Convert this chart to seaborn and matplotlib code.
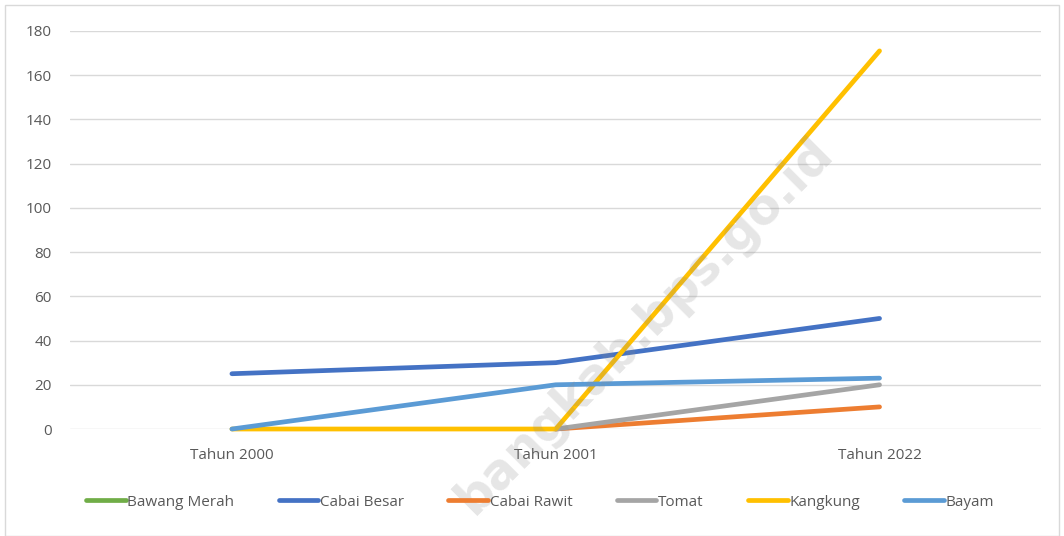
import numpy as np
import pandas as pd
import seaborn as sns
import matplotlib.pyplot as plt
from matplotlib.lines import Line2D
from matplotlib.patches import Rectangle

years = ['Tahun 2000', 'Tahun 2001', 'Tahun 2022']
series = ['Bawang Merah', 'Cabai Besar', 'Cabai Rawit', 'Tomat', 'Kangkung', 'Bayam']
bawang_merah = [np.nan, np.nan, np.nan]
cabai_besar = [25, 30, 50]
cabai_rawit = [np.nan, 0, 10]
tomat = [np.nan, 0, 20]
kangkung = [0, 0, 171]
bayam = [0, 20, 23]
colors = ['#70AD47', '#4472C4', '#ED7D31', '#A5A5A5', '#FFC000', '#5B9BD5']

values = [bawang_merah, cabai_besar, cabai_rawit, tomat, kangkung, bayam]
df = pd.DataFrame({
    'tahun': years * len(series),
    'jenis': [s for s in series for _ in years],
    'nilai': [v for vals in values for v in vals],
})
palette = dict(zip(series, colors))

sns.set_style('white')
plt.rcParams['font.family'] = ['Open Sans', 'DejaVu Sans']

fig = plt.figure(figsize=(10.64, 5.36), dpi=100)
ax = fig.add_axes([0.0658, 0.1996, 0.913, 0.7426])

sns.lineplot(data=df.dropna(), x='tahun', y='nilai', hue='jenis', hue_order=series,
             palette=palette, linewidth=3.4, legend=False, sort=False, ax=ax)
for line in ax.lines:
    line.set_clip_on(False)
    line.set_solid_capstyle('round')

ax.set_xlim(-0.5, 2.5)
ax.set_ylim(0, 180)
ax.set_yticks(range(0, 181, 20))
ax.grid(axis='y', color='#d9d9d9', linewidth=1)
ax.set_axisbelow(True)
for s in ax.spines.values():
    s.set_visible(False)
ax.set_xlabel('')
ax.set_ylabel('')
ax.tick_params(axis='y', length=0, pad=13, labelsize=11, labelcolor='#595959')
ax.tick_params(axis='x', length=0, pad=14, labelsize=11, labelcolor='#595959')

handles = [Line2D([], [], color=c, lw=3.4) for c in colors]
fig.legend(handles, series, loc='center', bbox_to_anchor=(540 / 1064, 1 - 502 / 536),
           ncol=6, frameon=False, fontsize=11, handlelength=2.6, handletextpad=0.1,
           columnspacing=2.9, labelcolor='#595959')

fig.text(645 / 1064, 1 - 325 / 536, 'bangkab.bps.go.id', rotation=45, ha='center', va='center',
         fontsize=35, fontweight='bold', color='#8c8c8c', alpha=0.22, family='DejaVu Sans')

fig.patches.append(Rectangle((0.005, 0.0), 0.99, 0.99, transform=fig.transFigure,
                             fill=False, edgecolor='#d9d9d9', linewidth=1))

fig.savefig('out.png', dpi=100)
